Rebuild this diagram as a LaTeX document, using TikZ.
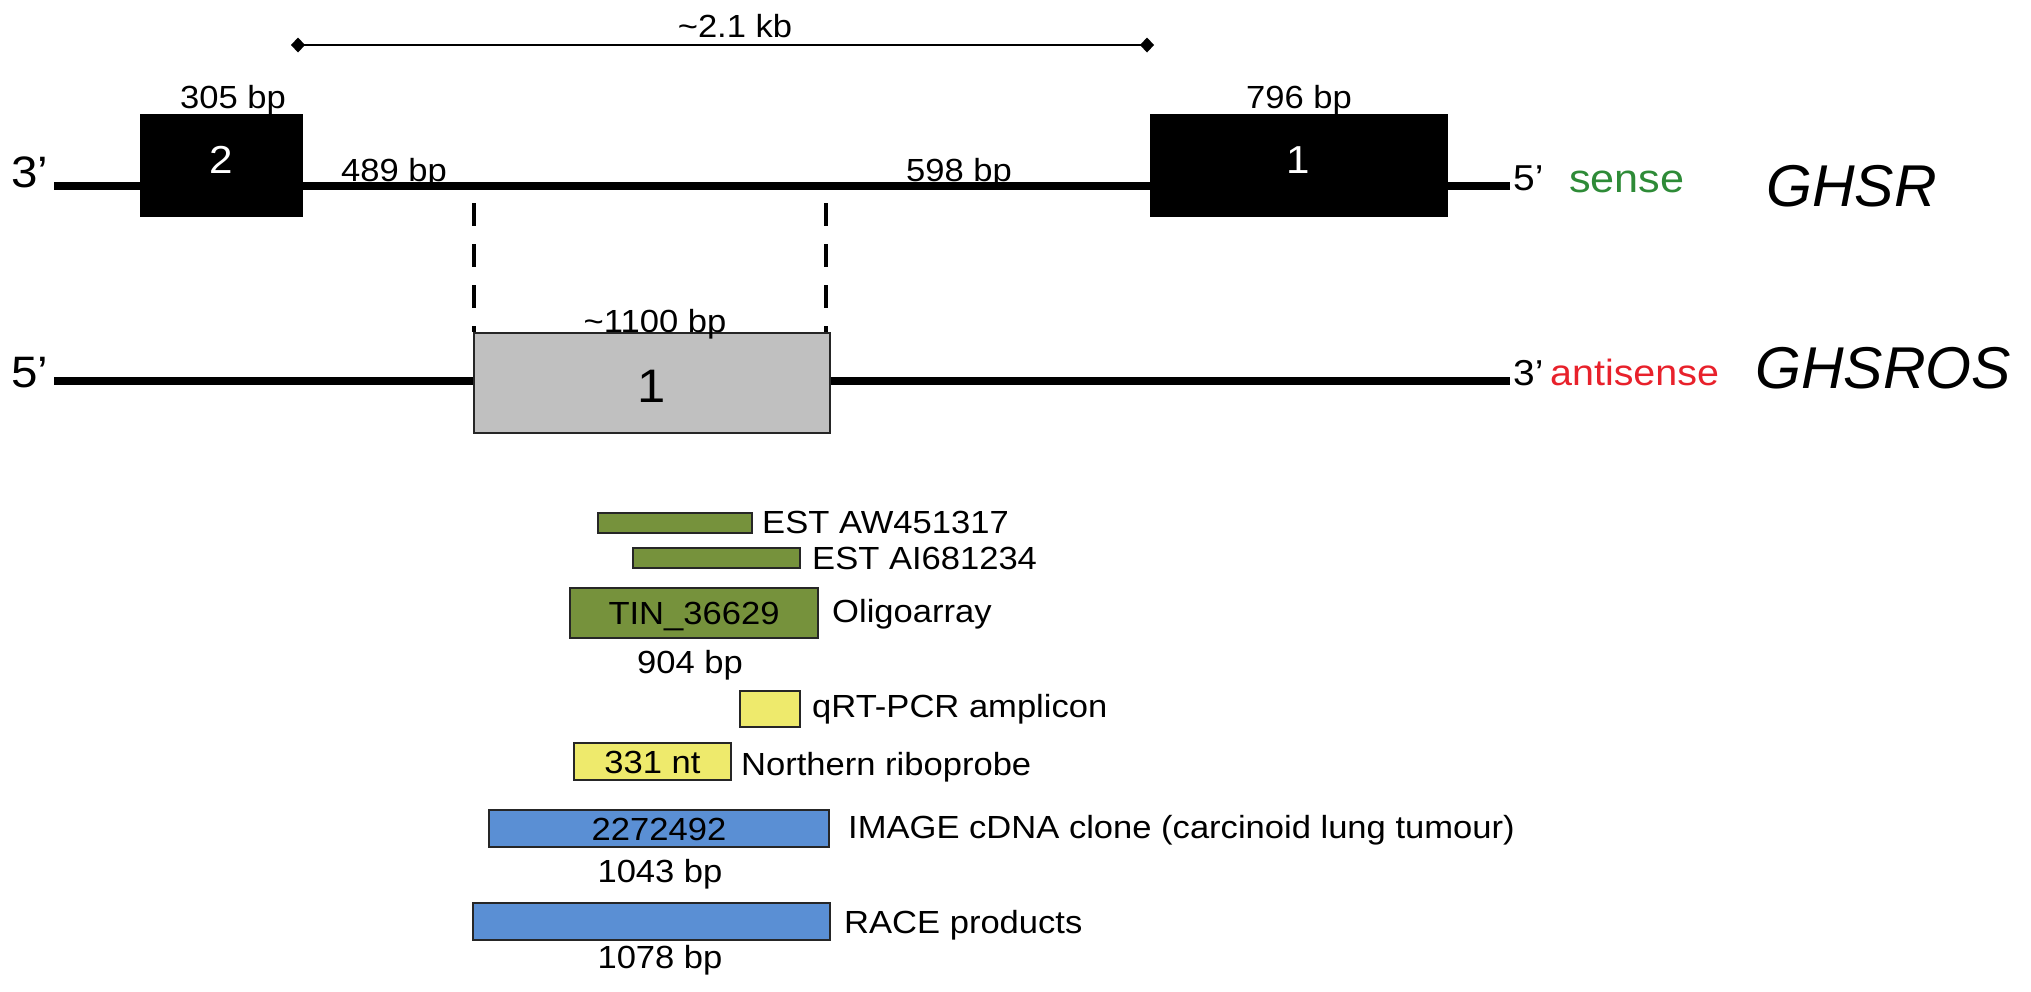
\documentclass[tikz,border=0pt]{standalone}
\usepackage{fontspec}
\setmainfont{Liberation Sans}[FakeStretch=1.08]
\newfontfamily\bigfont{Liberation Sans}
\usetikzlibrary{arrows.meta}
\definecolor{olivegreen}{HTML}{76923C}
\definecolor{ylw}{HTML}{EEEA6C}
\definecolor{blu}{HTML}{5A8FD4}
\definecolor{greybox}{HTML}{C0C0C0}
\definecolor{sensegreen}{HTML}{2E8B37}
\definecolor{antired}{HTML}{E8212B}
\begin{document}
\begin{tikzpicture}[x=1pt,y=-1pt,
  sm/.style={font=\fontsize{32}{38}\selectfont, inner sep=0pt},
  lw/.style={sm, anchor=base west},
  lc/.style={sm, anchor=base},
  endl/.style={font=\fontsize{44}{50}\selectfont, inner sep=0pt, anchor=base west},
  endr/.style={font=\fontsize{36}{42}\selectfont, inner sep=0pt, anchor=base west},
  strand/.style={line width=8pt},
  feat/.style={draw=black!85, line width=2pt, inner sep=0pt, sm},
  txt/.style={text height=23pt, text depth=0pt},
  exon/.style={fill=black, draw=black, inner sep=0pt, text=white, font=\fontsize{39}{45}\selectfont, text height=28pt, text depth=12pt},
  big/.style={font=\bigfont\fontsize{59}{66}\selectfont\itshape, inner sep=0pt, anchor=base west},
  md/.style={inner sep=0pt, anchor=base west},
  guide/.style={line width=4pt, dash pattern=on 23pt off 18pt},
]
\useasboundingbox (0,0) rectangle (2031,991);

% dimension line
\coordinate (k1) at (291,45);
\coordinate (k2) at (1154,45);
\draw[line width=2pt, {Diamond[length=14pt,width=15pt]}-{Diamond[length=14pt,width=15pt]}] (k1) -- (k2);
\node[lc] (kb) at (735,37) {\textasciitilde2.1 kb};

% sense strand
\node[exon, minimum width=162pt, minimum height=102pt] (ex2) at (221,165) {2};
\node[exon, minimum width=297pt, minimum height=102pt] (ex1) at (1298.5,165) {1};
\coordinate (s3) at (54,186);
\coordinate (s5) at (1510,186);
\draw[strand] (s3) -- (s3 -| ex2.west) (s3 -| ex2.east) -- (s3 -| ex1.west) (s3 -| ex1.east) -- (s5);
\node[lc] (l305) at (233,108) {305 bp};
\node[lc] (l796) at (1299,108) {796 bp};
\node[lc] (l489) at (394,181) {489 bp};
\node[lc] (l598) at (959,181) {598 bp};
\node[endl] (t3a) at (11,187) {3’};
\node[endr] (t5a) at (1513,190) {5’};
\node[md, font=\fontsize{40}{46}\selectfont, text=sensegreen] (sense) at (1569,192) {sense};
\node[big] (ghsr) at (1766,206) {GHSR};

% antisense strand
\node[feat, fill=greybox, minimum width=356pt, minimum height=100pt, font=\fontsize{47}{52}\selectfont, text height=38pt, text depth=0pt] (gx) at (652,383) {1};
\coordinate (a5) at (54,381);
\coordinate (a3) at (1510,381);
\draw[strand] (a5) -- (a5 -| gx.west) (a5 -| gx.east) -- (a3);
\coordinate (d1) at (474,203);
\coordinate (d2) at (826,203);
\draw[guide] (d1) -- (d1 |- gx.north) (d2) -- (d2 |- gx.north);
\node[lc] (l1100) at (655,332) {\textasciitilde1100 bp};
\node[endl] (t5b) at (11,387) {5’};
\node[endr] (t3b) at (1513,385) {3’};
\node[md, font=\fontsize{36.5}{42}\selectfont, text=antired] (anti) at (1550,385) {antisense};
\node[big] (ghsros) at (1755,388) {GHSROS};

% features
\node[feat, fill=olivegreen, minimum width=154pt, minimum height=20pt] (est1) at (675,523) {};
\node[feat, fill=olivegreen, minimum width=167pt, minimum height=20pt] (est2) at (716.5,558) {};
\node[feat, txt, fill=olivegreen, minimum width=248pt, minimum height=50pt] (tin) at (694,613) {TIN\_36629};
\node[feat, fill=ylw, minimum width=60pt, minimum height=36pt] (qpcr) at (770,709) {};
\node[feat, txt, fill=ylw, minimum width=157pt, minimum height=37pt] (north) at (652.5,761.5) {331 nt};
\node[feat, txt, fill=blu, minimum width=340pt, minimum height=37pt] (img) at (659,828.5) {2272492};
\node[feat, fill=blu, minimum width=357pt, minimum height=37pt] (race) at (651.5,921.5) {};

\node[lw] (lest1) at (762,533) {EST AW451317};
\node[lw] (lest2) at (812,569) {EST AI681234};
\node[lw] (loligo) at (832,622) {Oligoarray};
\node[lc] (l904) at (690,673) {904 bp};
\node[lw] (lqpcr) at (812,717) {qRT-PCR amplicon};
\node[lw] (lnorth) at (741,775) {Northern riboprobe};
\node[lw] (limg) at (848,838) {IMAGE cDNA clone (carcinoid lung tumour)};
\node[lc] (l1043) at (660,882) {1043 bp};
\node[lw] (lrace) at (844,933) {RACE products};
\node[lc] (l1078) at (660,968) {1078 bp};
\end{tikzpicture}
\end{document}
